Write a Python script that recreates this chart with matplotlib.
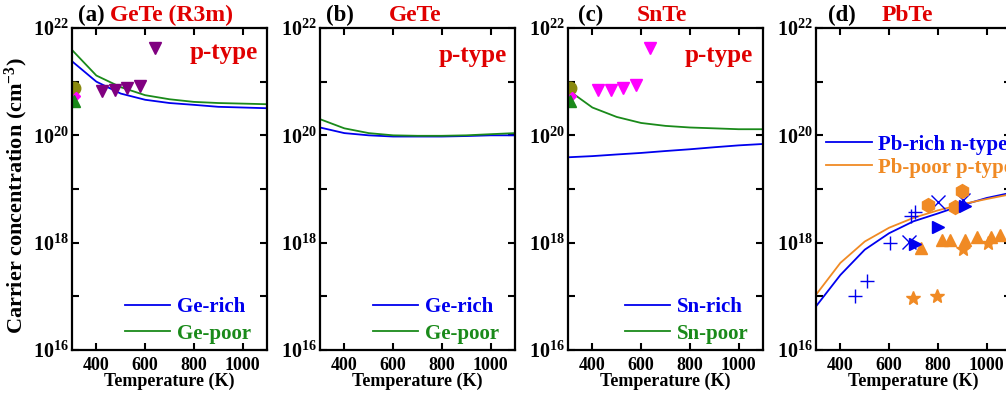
import numpy as np
import matplotlib
matplotlib.use("Agg")
import matplotlib.pyplot as plt
from matplotlib.ticker import FixedLocator, FuncFormatter, NullFormatter

plt.rcParams['font.family'] = ['Liberation Serif', 'DejaVu Serif']
plt.rcParams['font.weight'] = 'bold'
plt.rcParams['axes.labelweight'] = 'bold'
plt.rcParams['mathtext.default'] = 'regular'

# temperatures of the calculated curves (K)
temps = [300, 400, 500, 600, 700, 800, 900, 1000, 1100]

# (a) GeTe (R3m)
ge_rich_a = [2.4e21, 1.0e21, 6.0e20, 4.6e20, 4.0e20, 3.7e20, 3.4e20, 3.3e20, 3.2e20]
ge_poor_a = [3.9e21, 1.3e21, 7.9e20, 5.6e20, 4.7e20, 4.2e20, 4.0e20, 3.9e20, 3.8e20]
exp_t_a = [422, 477, 525, 580, 642]
exp_n_a = [6.8e20, 7.0e20, 7.7e20, 8.3e20, 4.2e21]

# (b) GeTe
ge_rich_b = [1.4e20, 1.1e20, 1.0e20, 0.95e20, 0.95e20, 0.95e20, 0.97e20, 1.0e20, 1.0e20]
ge_poor_b = [2.0e20, 1.35e20, 1.1e20, 1.0e20, 0.98e20, 0.98e20, 1.0e20, 1.05e20, 1.1e20]

# (c) SnTe
sn_rich = [3.9e19, 4.1e19, 4.4e19, 4.7e19, 5.1e19, 5.5e19, 6.0e19, 6.5e19, 6.9e19]
sn_poor = [7.0e20, 3.3e20, 2.2e20, 1.7e20, 1.5e20, 1.4e20, 1.35e20, 1.3e20, 1.3e20]
exp_t_c = [425, 476, 526, 580, 638]
exp_n_c = [7.0e20, 7.1e20, 7.7e20, 8.7e20, 4.2e21]

# room temperature points shown in (a) and (c)
rt_t = [308, 318, 308]
rt_n = [7.5e20, 5.3e20, 4.4e20]

# (d) PbTe
pb_rich = [6.5e16, 2.5e17, 7.4e17, 1.5e18, 2.5e18, 3.5e18, 5.0e18, 6.8e18, 8.5e18]
pb_poor = [1.07e17, 4.2e17, 1.05e18, 1.9e18, 2.9e18, 4.0e18, 5.2e18, 6.5e18, 8.0e18]
plus_t = [461, 509, 602, 688, 705]
plus_n = [1.0e17, 1.95e17, 9.8e17, 3.1e18, 3.8e18]
cross_t = [681, 802, 905]
cross_n = [1.05e18, 5.8e18, 6.3e18]
rtri_t = [708, 802, 910]
rtri_n = [9.5e17, 1.95e18, 4.9e18]
hex_t = [759, 869, 901]
hex_n = [5.0e18, 4.6e18, 9.3e18]
utri_t = [729, 818, 850, 910, 959, 1017, 1056]
utri_n = [7.9e17, 1.1e18, 1.1e18, 1.1e18, 1.3e18, 1.3e18, 1.4e18]
star_t = [697, 795, 903, 1004]
star_n = [9.5e16, 1.0e17, 7.6e17, 9.8e17]

BLUE = '#0000ee'
GREEN = '#1a8a1a'
ORANGE = '#f08a24'
RED = '#e00000'
PURPLE = '#800080'
MAGENTA = '#ff00ff'
OLIVE = '#8a8a10'

fig = plt.figure(figsize=(10.06, 3.96), dpi=100)
W, H = 1006, 396
axes = []
for i in range(4):
    left = 72 + 248 * i
    ax = fig.add_axes([left / W, 46 / H, 195 / W, 322 / H])
    axes.append(ax)


def style(ax):
    ax.set_yscale('log')
    ax.set_xlim(300, 1100)
    ax.set_ylim(1e16, 1e22)
    ax.yaxis.set_major_locator(FixedLocator([1e16, 1e18, 1e20, 1e22]))
    ax.yaxis.set_minor_locator(FixedLocator([1e17, 1e19, 1e21]))
    ax.yaxis.set_major_formatter(FuncFormatter(lambda v, p: '10$^{%d}$' % round(np.log10(v))))
    ax.yaxis.set_minor_formatter(NullFormatter())
    ax.set_xticks([400, 600, 800, 1000])
    ax.tick_params(which='both', direction='in', top=True, right=True,
                   length=5, width=1.5)
    ax.tick_params(axis='x', labelsize=13, pad=5)
    ax.tick_params(axis='y', labelsize=14.5, pad=2)
    for s in ax.spines.values():
        s.set_linewidth(1.6)
    ax.set_xlabel('Temperature (K)', fontsize=13, labelpad=-1)


def legend(ax, x, y, spacing=0.3):
    leg = ax.legend(loc='lower left', bbox_to_anchor=(x, y), frameon=False,
                    fontsize=15, handlelength=2.2, handletextpad=0.3,
                    labelspacing=spacing, borderpad=0, borderaxespad=0,
                    labelcolor='linecolor')
    return leg


for ax in axes:
    style(ax)

# (a)
ax = axes[0]
ax.plot(temps, ge_rich_a, color=BLUE, lw=1.3, label='Ge-rich')
ax.plot(temps, ge_poor_a, color=GREEN, lw=1.3, label='Ge-poor')
ax.plot(exp_t_a, exp_n_a, 'v', color=PURPLE, ms=9, clip_on=False)
ax.plot(rt_t[0], rt_n[0], 'o', color=OLIVE, ms=9)
ax.plot(rt_t[1], rt_n[1], 'D', color=MAGENTA, ms=4)
ax.plot(rt_t[2], rt_n[2], '^', color=GREEN, ms=8)
ax.text(0.03, 1.04, '(a)', transform=ax.transAxes, fontsize=16.5, va='center')
ax.text(0.51, 1.04, 'GeTe (R3m)', transform=ax.transAxes, fontsize=17,
        color=RED, ha='center', va='center')
ax.text(0.955, 0.925, 'p-type', transform=ax.transAxes, fontsize=18,
        color=RED, ha='right', va='center')
legend(ax, 0.27, 0.02)
ax.set_ylabel('Carrier concentration (cm$^{-3}$)', fontsize=16)
ax.yaxis.set_label_coords(-0.215, 0.48)

# (b)
ax = axes[1]
ax.plot(temps, ge_rich_b, color=BLUE, lw=1.3, label='Ge-rich')
ax.plot(temps, ge_poor_b, color=GREEN, lw=1.3, label='Ge-poor')
ax.text(0.03, 1.04, '(b)', transform=ax.transAxes, fontsize=16.5, va='center')
ax.text(0.49, 1.04, 'GeTe', transform=ax.transAxes, fontsize=17,
        color=RED, ha='center', va='center')
ax.text(0.96, 0.915, 'p-type', transform=ax.transAxes, fontsize=18,
        color=RED, ha='right', va='center')
legend(ax, 0.27, 0.02)

# (c)
ax = axes[2]
ax.plot(temps, sn_rich, color=BLUE, lw=1.3, label='Sn-rich')
ax.plot(temps, sn_poor, color=GREEN, lw=1.3, label='Sn-poor')
ax.plot(exp_t_c, exp_n_c, 'v', color=MAGENTA, ms=9, clip_on=False)
ax.plot(rt_t[0], rt_n[0], 'o', color=OLIVE, ms=9)
ax.plot(rt_t[1], rt_n[1], 'D', color=MAGENTA, ms=4)
ax.plot(rt_t[2], rt_n[2], '^', color=GREEN, ms=8)
ax.text(0.05, 1.04, '(c)', transform=ax.transAxes, fontsize=16.5, va='center')
ax.text(0.48, 1.04, 'SnTe', transform=ax.transAxes, fontsize=17,
        color=RED, ha='center', va='center')
ax.text(0.95, 0.915, 'p-type', transform=ax.transAxes, fontsize=18,
        color=RED, ha='right', va='center')
legend(ax, 0.29, 0.02)

# (d)
ax = axes[3]
ax.plot(temps, pb_rich, color=BLUE, lw=1.3, label='Pb-rich n-type')
ax.plot(temps, pb_poor, color=ORANGE, lw=1.3, label='Pb-poor p-type')
ax.plot(plus_t, plus_n, '+', color=BLUE, ms=10, mew=1)
ax.plot(cross_t, cross_n, 'x', color=BLUE, ms=10, mew=1)
ax.plot(hex_t, hex_n, 'h', color=ORANGE, ms=10)
ax.plot(utri_t, utri_n, '^', color=ORANGE, ms=9)
ax.plot(star_t, star_n, '*', color=ORANGE, ms=10)
ax.plot(rtri_t, rtri_n, '>', color=BLUE, ms=9)
ax.text(0.06, 1.04, '(d)', transform=ax.transAxes, fontsize=16.5, va='center')
ax.text(0.47, 1.04, 'PbTe', transform=ax.transAxes, fontsize=17,
        color=RED, ha='center', va='center')
legend(ax, 0.05, 0.535, spacing=0.15)

fig.savefig('out.png', dpi=100)
